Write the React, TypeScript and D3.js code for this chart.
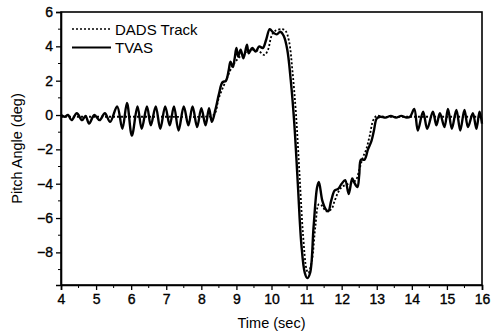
import React, { useEffect, useRef } from 'react';
import * as d3 from 'd3';

// TVAS measured pitch (time in sec, angle in deg)
const tvasTime = [
  4.0, 4.1, 4.2, 4.3, 4.45, 4.6, 4.7, 4.8, 4.95, 5.1, 5.25, 5.4, 5.6, 5.75, 5.88, 6.02, 6.18, 6.3,
  6.45, 6.56, 6.7, 6.83, 6.97, 7.1, 7.22, 7.35, 7.5, 7.63, 7.75, 7.88, 8.0, 8.12, 8.22, 8.3, 8.4,
  8.5, 8.6, 8.7, 8.78, 8.83, 8.9, 8.95, 9.0, 9.05, 9.12, 9.2, 9.3, 9.35, 9.45, 9.55, 9.65, 9.75,
  9.85, 9.95, 10.05, 10.15, 10.25, 10.35, 10.45, 10.55, 10.65, 10.75, 10.85, 10.95, 11.02, 11.1,
  11.2, 11.3, 11.35, 11.45, 11.55, 11.62, 11.7, 11.8, 11.9, 12.0, 12.1, 12.2, 12.3, 12.35, 12.45,
  12.5, 12.55, 12.65, 12.75, 12.85, 12.92, 13.0, 13.1, 13.25, 13.4, 13.55, 13.7, 13.85, 13.95,
  14.07, 14.17, 14.32, 14.44, 14.6, 14.7, 14.8, 14.93, 15.03, 15.14, 15.27, 15.38, 15.5, 15.6,
  15.74, 15.84, 15.93, 16.0,
];
const tvasPitch = [
  0, -0.1, 0, -0.3, 0.1, -0.3, -0.05, -0.5, 0, -0.3, 0.1, -0.4, 0.5, -0.8, 0.7, -1.2, 0.5, -0.8,
  0.5, -0.6, 0.5, -0.8, 0.5, -0.6, 0.5, -0.9, 0.5, -0.6, 0.5, -0.7, 0.4, -0.6, 0.4, -0.4, 0.3,
  1.2, 1.9, 2.0, 2.6, 3.1, 2.8, 3.3, 3.9, 3.4, 3.8, 3.3, 4.1, 3.6, 3.9, 3.7, 4.0, 3.9,
  4.4, 5.0, 4.8, 4.7, 4.85, 4.6, 3.8, 2.0, -0.5, -4.0, -7.5, -9.2, -9.5, -9.2,
  -6.5, -4.2, -3.9, -5.0, -5.5, -5.6, -5.0, -4.4, -4.3, -4.0, -3.8, -4.6, -3.7, -3.9, -4.2,
  -3.5, -2.6, -2.6, -2.0, -1.5, -0.9, -0.2, -0.1, -0.15, -0.05, -0.15, -0.05, -0.15, -0.1,
  0.35, -0.9, 0.2, -0.8, 0.2, -0.6, 0.1, -0.7, 0.35, -0.8, 0.3, -0.9, 0.3, -0.7,
  0.1, -0.8, 0.2, -0.5, -0.1,
];

// DADS track reference
const dadsTime = [
  4.0, 5.0, 6.0, 7.0, 8.0, 8.35, 8.5, 8.7, 8.9, 9.1, 9.3, 9.5, 9.65, 9.8, 9.9, 10.0, 10.1, 10.3,
  10.4, 10.5, 10.6, 10.7, 10.8, 10.9, 11.0, 11.05, 11.15, 11.25, 11.35, 11.45, 11.55, 11.7, 11.8,
  11.9, 12.0, 12.2, 12.4, 12.5, 12.6, 12.7, 12.8, 12.9, 13.0, 13.2, 14.0, 15.0, 16.0,
];
const dadsPitch = [
  -0.1, -0.1, -0.1, -0.1, -0.1, 0, 1.0, 2.0, 2.9, 3.4, 3.7, 3.8, 3.7, 3.5, 3.8, 4.6, 4.9, 5.0,
  4.9, 4.3, 2.5, 0, -3.5, -7.0, -9.0, -9.2, -8.5, -6.5, -5.2, -5.3, -5.6, -5.5, -5.0,
  -4.5, -4.2, -4.0, -3.8, -3.2, -2.5, -2.0, -1.2, -0.3, -0.05, -0.1, -0.1, -0.1, -0.1,
];

const xTicks = [4, 5, 6, 7, 8, 9, 10, 11, 12, 13, 14, 15, 16];
const yTicks = [-8, -6, -4, -2, 0, 2, 4, 6];

const W = 494;
const H = 333;
const margin = { top: 12, right: 12, bottom: 48, left: 61 };
const FONT = 'Liberation Sans, Arial, sans-serif';

export default function App() {
  const svgRef = useRef<SVGSVGElement>(null);

  useEffect(() => {
    if (!svgRef.current) return;
    const svg = d3.select(svgRef.current);
    svg.selectAll('*').remove();

    const x = d3.scaleLinear().domain([4, 16]).range([margin.left, W - margin.right]);
    const y = d3.scaleLinear().domain([-9.9, 6]).range([H - margin.bottom, margin.top]);

    const line = d3.line<[number, number]>()
      .x(d => x(d[0]))
      .y(d => y(d[1]))
      .curve(d3.curveCatmullRom.alpha(0.5));

    const dads = dadsTime.map((t, i) => [t, dadsPitch[i]] as [number, number]);
    const tvas = tvasTime.map((t, i) => [t, tvasPitch[i]] as [number, number]);

    svg.append('path')
      .attr('d', line(dads))
      .attr('fill', 'none')
      .attr('stroke', '#000')
      .attr('stroke-width', 1.8)
      .attr('stroke-dasharray', '2,2');

    svg.append('path')
      .attr('d', line(tvas))
      .attr('fill', 'none')
      .attr('stroke', '#000')
      .attr('stroke-width', 2.4);

    // frame
    svg.append('rect')
      .attr('x', margin.left)
      .attr('y', margin.top)
      .attr('width', W - margin.left - margin.right)
      .attr('height', H - margin.top - margin.bottom)
      .attr('fill', 'none')
      .attr('stroke', '#000')
      .attr('stroke-width', 1.6);

    // minor ticks
    const xMinor = d3.range(4.5, 16, 1);
    const yMinor = [-9, -7, -5, -3, -1, 1, 3, 5];

    const gx = svg.append('g')
      .attr('transform', `translate(0,${H - margin.bottom})`)
      .call(d3.axisBottom(x).tickValues(xTicks).tickSize(5).tickPadding(4).tickFormat(d3.format('d')));
    gx.select('.domain').attr('stroke-width', 1.6);
    gx.selectAll('.tick line').attr('stroke-width', 1.3);
    gx.selectAll('text')
      .attr('font-size', 14).attr('font-family', FONT).attr('fill', '#000')
      .attr('stroke', '#000').attr('stroke-width', 0.35);
    gx.selectAll('.minor').data(xMinor).join('line')
      .attr('x1', d => x(d)).attr('x2', d => x(d))
      .attr('y1', 0).attr('y2', 3)
      .attr('stroke', '#000').attr('stroke-width', 1);

    const gy = svg.append('g')
      .attr('transform', `translate(${margin.left},0)`)
      .call(d3.axisLeft(y).tickValues(yTicks).tickSize(5).tickPadding(3).tickFormat(d3.format('d')));
    gy.select('.domain').attr('stroke-width', 1.6);
    gy.selectAll('.tick line').attr('stroke-width', 1.3);
    gy.selectAll('text')
      .attr('font-size', 14).attr('font-family', FONT).attr('fill', '#000')
      .attr('stroke', '#000').attr('stroke-width', 0.35);
    gy.selectAll('.minor').data(yMinor).join('line')
      .attr('y1', d => y(d)).attr('y2', d => y(d))
      .attr('x1', 0).attr('x2', -3)
      .attr('stroke', '#000').attr('stroke-width', 1);

    // axis titles
    svg.append('text')
      .attr('x', (margin.left + W - margin.right) / 2)
      .attr('y', 328)
      .attr('text-anchor', 'middle')
      .attr('font-size', 14.5)
      .attr('font-family', FONT)
      .text('Time (sec)');

    svg.append('text')
      .attr('transform', `translate(22,${(margin.top + H - margin.bottom) / 2}) rotate(-90)`)
      .attr('text-anchor', 'middle')
      .attr('font-size', 14.5)
      .attr('font-family', FONT)
      .text('Pitch Angle (deg)');

    // legend
    const legend = [
      { label: 'DADS Track', dash: '2,2', width: 1.6 },
      { label: 'TVAS', dash: null, width: 2 },
    ];
    legend.forEach((l, i) => {
      const ly = 29 + i * 18.5;
      svg.append('line')
        .attr('x1', 72).attr('x2', 111)
        .attr('y1', ly).attr('y2', ly)
        .attr('stroke', '#000')
        .attr('stroke-width', l.width)
        .attr('stroke-dasharray', l.dash);
      svg.append('text')
        .attr('x', 115).attr('y', ly + 5.5)
        .attr('font-size', 15)
        .attr('font-family', FONT)
        .text(l.label);
    });
  }, []);

  return (
    <svg
      ref={svgRef}
      width={W}
      height={H}
      style={{ position: 'absolute', left: 0, top: 0, background: '#fff' }}
    />
  );
}
